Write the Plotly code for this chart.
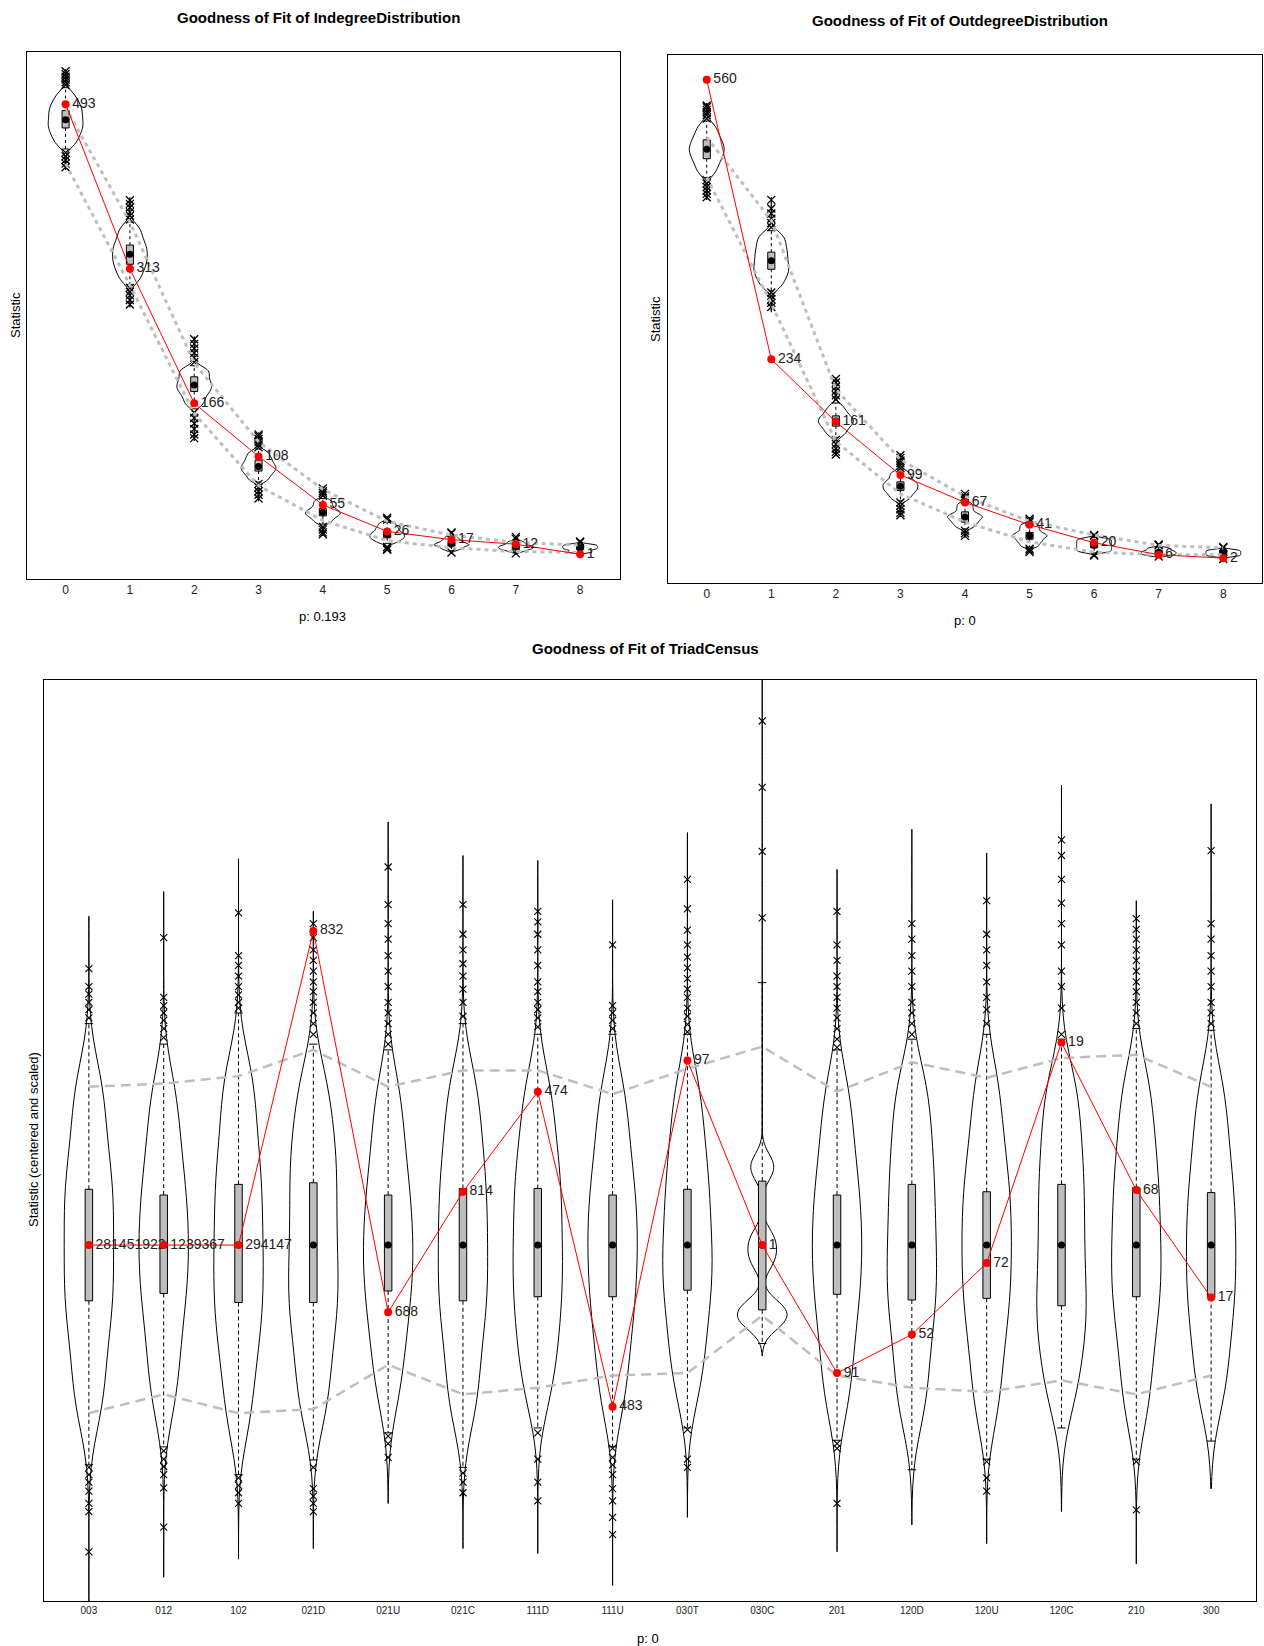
import plotly.graph_objects as go

FONT = "Liberation Sans, Arial, Helvetica, sans-serif"

# ---------------- Indegree distribution (top left) ----------------
in_cats = ["0", "1", "2", "3", "4", "5", "6", "7", "8"]
in_obs = [493, 313, 166, 108, 55, 26, 17, 12, 1]
in_q1 = [467, 318, 179, 92, 43, 19, 10, 7, 6]
in_med = [476, 329, 186, 97, 47, 23, 12, 9, 8]
in_q3 = [486, 339, 195, 104, 51, 27, 15, 11, 10]
in_wlo = [444, 296, 160, 80, 34, 13, 5, 3, 2]
in_whi = [511, 364, 207, 116, 62, 36, 21, 15, 12]
in_out_hi = [[514, 517, 520, 523, 526, 529], [367, 371, 375, 380, 384, 388],
             [211, 216, 221, 226, 231, 236], [118, 121, 124, 127, 130, 132],
             [65, 68, 70, 73], [39, 41], [24, 25], [18, 20], [14, 15]]
in_out_lo = [[440, 436, 432, 428, 424], [292, 288, 284, 279, 274],
             [156, 150, 144, 138, 132, 128], [78, 74, 70, 66, 62],
             [31, 28, 25, 23], [9, 7, 6], [3], [2], []]
in_core = [[450, 458, 465, 470, 476, 482, 488, 494, 503],
           [301, 310, 317, 323, 329, 335, 341, 349, 358],
           [165, 172, 178, 182, 186, 190, 195, 200, 204],
           [82, 87, 91, 94, 97, 100, 104, 108, 113],
           [36, 40, 43, 45, 47, 49, 52, 56, 60],
           [14, 17, 19, 21, 23, 25, 28, 31, 35],
           [6, 8, 10, 11, 12, 13, 15, 17, 20],
           [4, 6, 7, 8, 9, 10, 11, 13, 15],
           [3, 4, 6, 7, 8, 9, 10, 11, 12]]
in_span = [[421, 531], [271, 391], [125, 239], [59, 134], [21, 75], [5, 42], [2, 26], [1, 21], [1, 16]]
in_ghi = [489, 364, 210, 124, 72, 37, 22, 14, 11]
in_glo = [428, 295, 155, 76, 38, 16, 8, 4, 3]

# ---------------- Outdegree distribution (top right) ----------------
out_cats = ["0", "1", "2", "3", "4", "5", "6", "7", "8"]
out_obs = [560, 234, 161, 99, 67, 41, 20, 6, 2]
out_q1 = [468, 339, 156, 81, 44, 24, 14, 7, 6]
out_med = [479, 349, 162, 86, 50, 28, 17, 9, 8]
out_q3 = [490, 359, 168, 91, 56, 32, 20, 11, 10]
out_wlo = [446, 314, 143, 69, 36, 15, 8, 5, 3]
out_whi = [512, 384, 183, 105, 68, 42, 26, 15, 13]
out_out_hi = [[515, 519, 522, 525, 528, 530], [388, 393, 398, 404, 410, 420],
              [187, 192, 197, 202, 207, 211], [107, 110, 113, 116, 119, 122],
              [70, 72, 74, 77], [44, 46, 48], [28, 29], [17, 18], [14, 15]]
out_out_lo = [[443, 439, 435, 431, 427, 423], [312, 308, 304, 300, 295],
              [140, 135, 130, 126, 123], [67, 63, 59, 55, 52],
              [34, 31, 28], [13, 11, 9], [6, 5], [4], [1]]
out_core = [[452, 461, 468, 474, 479, 484, 490, 497, 506],
            [320, 329, 336, 342, 349, 356, 363, 371, 379],
            [146, 151, 156, 159, 162, 165, 168, 173, 179],
            [71, 76, 80, 83, 86, 89, 92, 97, 102],
            [38, 42, 45, 48, 50, 52, 55, 60, 65],
            [16, 20, 23, 26, 28, 30, 33, 37, 41],
            [9, 11, 13, 15, 17, 19, 21, 23, 25],
            [5, 6, 7, 8, 9, 10, 11, 13, 14],
            [4, 5, 6, 7, 8, 9, 10, 11, 12]]
out_span = [[420, 533], [289, 423], [121, 213], [50, 124], [26, 79], [8, 50], [4, 30], [3, 19], [0, 16]]
out_ghi = [493, 396, 199, 117, 74, 45, 29, 17, 14]
out_glo = [446, 299, 138, 77, 44, 21, 9, 6, 6]

# ---------------- Triad census (bottom, centered and scaled) ----------------
tri_cats = ["003", "012", "102", "021D", "021U", "021C", "111D", "111U",
            "030T", "030C", "201", "120D", "120U", "120C", "210", "300"]
tri_labels = ["281451922", "1239367", "294147", "832", "688", "814", "474", "483",
              "97", "1", "91", "52", "72", "19", "68", "17"]
tri_obs = [0, 0, 0, 3.83, -0.82, 0.65, 1.87, -1.97, 2.25, 0, -1.56, -1.09, -0.22, 2.47, 0.67, -0.64]
tri_med = [0, 0, 0, 0, 0, 0, 0, 0, 0, 0, 0, 0, 0, 0, 0, 0]
tri_q1 = [-0.68, -0.59, -0.70, -0.70, -0.56, -0.68, -0.63, -0.63, -0.55, -0.79, -0.60, -0.67, -0.65, -0.74, -0.63, -0.64]
tri_q3 = [0.68, 0.61, 0.74, 0.76, 0.61, 0.69, 0.69, 0.61, 0.68, 0.78, 0.61, 0.74, 0.65, 0.74, 0.70, 0.64]
tri_wlo = [-2.68, -2.46, -2.80, -2.62, -2.29, -2.71, -2.23, -2.46, -2.23, -1.20, -2.38, -2.74, -2.61, -2.23, -2.61, -2.39]
tri_whi = [2.70, 2.45, 2.83, 2.45, 2.38, 2.70, 2.57, 2.57, 2.57, 3.20, 2.38, 2.51, 2.57, 2.51, 2.64, 2.62]
tri_out_hi = [
    [3.37, 3.15, 3.06, 2.96, 2.87, 2.77],
    [3.75, 3.02, 2.92, 2.83, 2.74, 2.64, 2.53],
    [4.05, 3.53, 3.41, 3.28, 3.15, 3.05, 2.96, 2.89],
    [3.92, 3.75, 3.60, 3.47, 3.34, 3.21, 3.09, 2.96, 2.83, 2.70, 2.57],
    [4.61, 4.15, 3.92, 3.73, 3.53, 3.34, 3.15, 2.96, 2.83, 2.70, 2.57, 2.45],
    [4.15, 3.79, 3.60, 3.43, 3.28, 3.12, 2.96, 2.79],
    [4.07, 3.94, 3.79, 3.60, 3.41, 3.21, 3.09, 2.96, 2.87, 2.77, 2.66],
    [3.66, 2.92, 2.83, 2.74, 2.64],
    [4.46, 4.10, 3.84, 3.66, 3.51, 3.38, 3.25, 3.12, 3.02, 2.89, 2.79, 2.69, 2.60],
    [6.39, 5.58, 4.80, 3.99],
    [4.07, 3.66, 3.47, 3.28, 3.15, 3.02, 2.89, 2.77, 2.64, 2.51, 2.41],
    [3.92, 3.73, 3.53, 3.34, 3.15, 2.96, 2.83, 2.70, 2.57],
    [4.20, 3.79, 3.60, 3.41, 3.21, 3.02, 2.87, 2.70],
    [4.94, 4.75, 4.46, 4.17, 3.92, 3.66, 3.34, 3.15, 2.89, 2.57],
    [3.98, 3.85, 3.73, 3.60, 3.47, 3.34, 3.21, 3.09, 2.96, 2.83, 2.70],
    [4.81, 3.92, 3.73, 3.53, 3.34, 3.15, 2.96, 2.83, 2.70],
]
tri_out_lo = [
    [-2.71, -2.80, -2.89, -3.00, -3.15, -3.25, -3.74],
    [-2.51, -2.61, -2.70, -2.80, -2.96, -3.44],
    [-2.84, -2.93, -3.02, -3.15],
    [-2.71, -2.97, -3.06, -3.15, -3.25],
    [-2.33, -2.42, -2.59],
    [-2.78, -2.89, -3.02],
    [-2.29, -2.61, -2.89, -3.12],
    [-2.48, -2.59, -2.68, -2.80, -2.97, -3.12, -3.32, -3.53],
    [-2.25, -2.61, -2.71],
    [],
    [-2.42, -2.48, -3.15],
    [],
    [-2.64, -2.84, -3.00],
    [],
    [-2.64, -3.23],
    [],
]
tri_core = [
    [-2.0, -1.5, -1.0, -0.68, -0.35, 0, 0.35, 0.68, 1.0, 1.5, 2.0],
    [-1.9, -1.4, -0.95, -0.59, -0.3, 0, 0.3, 0.61, 0.95, 1.4, 1.9],
    [-2.1, -1.5, -1.05, -0.70, -0.35, 0, 0.37, 0.74, 1.1, 1.6, 2.1],
    [-2.0, -1.5, -1.0, -0.70, -0.35, 0, 0.38, 0.76, 1.1, 1.5, 2.0],
    [-1.8, -1.3, -0.9, -0.56, -0.28, 0, 0.3, 0.61, 0.95, 1.4, 1.9],
    [-2.0, -1.5, -1.0, -0.68, -0.34, 0, 0.35, 0.69, 1.05, 1.5, 2.0],
    [-1.8, -1.35, -0.95, -0.63, -0.3, 0, 0.35, 0.69, 1.0, 1.45, 1.95],
    [-1.9, -1.4, -0.95, -0.63, -0.3, 0, 0.3, 0.61, 0.95, 1.4, 1.9],
    [-1.75, -1.3, -0.9, -0.55, -0.28, 0, 0.34, 0.68, 1.0, 1.45, 1.95],
    [-1.0, -0.95, -0.9, -0.85, -0.8, -0.75, -0.7, -0.25, -0.15, -0.05, 0.05, 0.15, 0.85, 0.95, 1.05],
    [-1.9, -1.4, -0.95, -0.60, -0.3, 0, 0.3, 0.61, 0.95, 1.4, 1.9],
    [-2.0, -1.5, -1.0, -0.67, -0.33, 0, 0.37, 0.74, 1.1, 1.55, 2.0],
    [-2.0, -1.45, -0.98, -0.65, -0.32, 0, 0.32, 0.65, 0.98, 1.45, 2.0],
    [-1.85, -1.4, -1.0, -0.74, -0.37, 0, 0.37, 0.74, 1.1, 1.55, 2.0],
    [-2.0, -1.45, -0.98, -0.63, -0.32, 0, 0.35, 0.70, 1.05, 1.5, 2.0],
    [-1.85, -1.4, -0.95, -0.64, -0.32, 0, 0.32, 0.64, 1.0, 1.45, 1.95],
]
tri_span = [[-4.37, 4.01], [-4.05, 4.31], [-3.83, 4.71], [-3.70, 4.07], [-3.15, 5.16], [-3.70, 4.75],
            [-3.76, 4.69], [-4.15, 4.21], [-3.32, 5.03], [-1.35, 7.3], [-3.74, 4.58], [-3.41, 5.07],
            [-3.64, 4.78], [-3.25, 5.61], [-3.89, 4.20], [-2.97, 5.38]]
tri_ghi = [1.93, 1.97, 2.06, 2.38, 1.93, 2.13, 2.13, 1.84, 2.15, 2.42, 1.87, 2.23, 2.04, 2.28, 2.32, 1.93]
tri_glo = [-2.05, -1.82, -2.05, -2.00, -1.46, -1.82, -1.74, -1.59, -1.56, -0.86, -1.59, -1.74, -1.79, -1.65, -1.82, -1.59]

# kernel bandwidths (style of the density outlines)
in_bw = [6.5, 6.5, 4.5, 3.2, 2.6, 2.1, 1.6, 1.3, 1.1]
out_bw = [6.5, 6.5, 4.5, 3.2, 2.6, 2.1, 1.6, 1.3, 1.1]
tri_bw = [0.45] * 9 + [0.13] + [0.45] * 6

fig = go.Figure()


def add_panel(xa, ya, cats, obs, labels, q1, med, q3, wlo, whi, out_hi, out_lo,
              core, span, ghi, glo, bw, st):
    n = len(cats)
    xs = list(range(n))
    for i in range(n):
        fig.add_trace(go.Violin(
            x0=i, y=core[i], xaxis=xa, yaxis=ya, width=st["vw"], scalemode="width",
            spanmode="manual", span=span[i], bandwidth=bw[i], points=False,
            box_visible=False, meanline_visible=False,
            line=dict(color="black", width=1), fillcolor="rgba(0,0,0,0)",
            showlegend=False, hoverinfo="skip", name=cats[i]))
    wx, wy = [], []
    for i in range(n):
        wx += [i, i, None, i, i, None]
        wy += [q3[i], whi[i], None, q1[i], wlo[i], None]
    fig.add_trace(go.Scatter(x=wx, y=wy, xaxis=xa, yaxis=ya, mode="lines",
                             line=dict(color="black", width=1, dash=st["wdash"]),
                             showlegend=False, hoverinfo="skip"))
    fig.add_trace(go.Scatter(x=xs + xs, y=whi + wlo, xaxis=xa, yaxis=ya, mode="markers",
                             marker=dict(symbol="line-ew", size=st["staple"],
                                         line=dict(color="black", width=1)),
                             showlegend=False, hoverinfo="skip"))
    fig.add_trace(go.Box(x=xs, q1=q1, median=med, q3=q3, lowerfence=q1, upperfence=q3,
                         xaxis=xa, yaxis=ya, width=st["bw"], fillcolor="#BEBEBE",
                         line=dict(color="black", width=1), whiskerwidth=0,
                         showlegend=False, hoverinfo="skip"))
    fig.add_trace(go.Scatter(x=xs, y=med, xaxis=xa, yaxis=ya, mode="markers",
                             marker=dict(color="black", size=st["mdot"]),
                             showlegend=False, hoverinfo="skip"))
    ox, oy = [], []
    for i in range(n):
        for v in out_hi[i] + out_lo[i]:
            ox.append(i)
            oy.append(v)
    fig.add_trace(go.Scatter(x=ox, y=oy, xaxis=xa, yaxis=ya, mode="markers",
                             marker=dict(symbol="x-thin", size=st["osize"],
                                         line=dict(color="black", width=st["ow"])),
                             showlegend=False, hoverinfo="skip"))
    for g in (ghi, glo):
        fig.add_trace(go.Scatter(x=xs, y=g, xaxis=xa, yaxis=ya, mode="lines",
                                 line=dict(color="#BEBEBE", width=st["gw"], dash=st["gdash"]),
                                 showlegend=False, hoverinfo="skip"))
    fig.add_trace(go.Scatter(x=xs, y=obs, xaxis=xa, yaxis=ya, mode="lines",
                             line=dict(color="red", width=1), showlegend=False, hoverinfo="skip"))
    fig.add_trace(go.Scatter(x=xs, y=obs, xaxis=xa, yaxis=ya, mode="markers+text",
                             marker=dict(color="rgba(0,0,0,0)", size=9),
                             text=labels, textposition="middle right",
                             textfont=dict(family=FONT, size=st["tsize"], color="#222"),
                             showlegend=False, hoverinfo="skip"))
    fig.add_trace(go.Scatter(x=xs, y=obs, xaxis=xa, yaxis=ya, mode="markers",
                             marker=dict(color="red", size=8),
                             showlegend=False, hoverinfo="skip"))


top_style = dict(vw=0.54, bw=0.11, wdash="3px,3px", staple=4, mdot=7, osize=8, ow=1.3,
                 gw=3, gdash="4px,4px", tsize=14)
bot_style = dict(vw=0.66, bw=0.10, wdash="4px,3px", staple=6, mdot=7, osize=7, ow=1.1,
                 gw=2.5, gdash="10px,6px", tsize=14)

add_panel("x", "y", in_cats, in_obs, [str(v) for v in in_obs], in_q1, in_med, in_q3,
          in_wlo, in_whi, in_out_hi, in_out_lo, in_core, in_span, in_ghi, in_glo, in_bw, top_style)
add_panel("x2", "y2", out_cats, out_obs, [str(v) for v in out_obs], out_q1, out_med, out_q3,
          out_wlo, out_whi, out_out_hi, out_out_lo, out_core, out_span, out_ghi, out_glo, out_bw, top_style)
add_panel("x3", "y3", tri_cats, tri_obs, tri_labels, tri_q1, tri_med, tri_q3,
          tri_wlo, tri_whi, tri_out_hi, tri_out_lo, tri_core, tri_span, tri_ghi, tri_glo, tri_bw, bot_style)

W, H = 1264, 1646


def px_x(p):
    return p / W


def px_y(p):
    return 1 - p / H


common_x = dict(type="linear", showgrid=False, zeroline=False, showline=True, mirror=True,
                linecolor="black", linewidth=1, ticks="",
                tickfont=dict(family=FONT, size=12, color="#222"))
common_y = dict(showgrid=False, zeroline=False, showline=True, mirror=True,
                linecolor="black", linewidth=1, ticks="", showticklabels=False)

fig.update_layout(
    width=W, height=H, margin=dict(l=0, r=0, t=0, b=0),
    paper_bgcolor="white", plot_bgcolor="white", showlegend=False,
    violinmode="overlay", boxmode="overlay",
    xaxis=dict(common_x, domain=[px_x(27), px_x(620)], range=[-0.6, 8.62],
               tickvals=list(range(9)), ticktext=in_cats, anchor="y"),
    yaxis=dict(common_y, domain=[px_y(579), px_y(52)], range=[-26, 550], anchor="x"),
    xaxis2=dict(common_x, domain=[px_x(668), px_x(1262)], range=[-0.6, 8.6],
                tickvals=list(range(9)), ticktext=out_cats, anchor="y2"),
    yaxis2=dict(common_y, domain=[px_y(583), px_y(55)], range=[-27, 589], anchor="x2"),
    xaxis3=dict(common_x, domain=[px_x(44), px_x(1256)], range=[-0.6, 15.6],
                tickvals=list(range(16)), ticktext=tri_cats, anchor="y3",
                tickfont=dict(family=FONT, size=10, color="#222")),
    yaxis3=dict(common_y, domain=[px_y(1601), px_y(680)], range=[-4.34, 6.89], anchor="x3"),
)

ann = []


def add_text(x, y, text, size, bold=False, angle=0):
    ann.append(dict(x=px_x(x), y=px_y(y), xref="paper", yref="paper", showarrow=False,
                    text=("<b>%s</b>" % text) if bold else text, textangle=angle,
                    xanchor="center", yanchor="middle",
                    font=dict(family=FONT, size=size, color="black")))


add_text(318, 18, "Goodness of Fit of IndegreeDistribution", 15, bold=True)
add_text(960, 20, "Goodness of Fit of OutdegreeDistribution", 15, bold=True)
add_text(646, 648, "Goodness of Fit of TriadCensus", 15, bold=True)
add_text(323, 617, "p: 0.193", 13)
add_text(965, 620, "p: 0", 13)
add_text(648, 1638, "p: 0", 13)
add_text(15, 315, "Statistic", 13, angle=-90)
add_text(655, 319, "Statistic", 13, angle=-90)
add_text(33, 1140, "Statistic (centered and scaled)", 13, angle=-90)
fig.update_layout(annotations=ann)

fig.write_html("out.html", config={"displayModeBar": False},
               post_script="document.body.style.margin='0px';document.body.style.overflow='hidden';")
